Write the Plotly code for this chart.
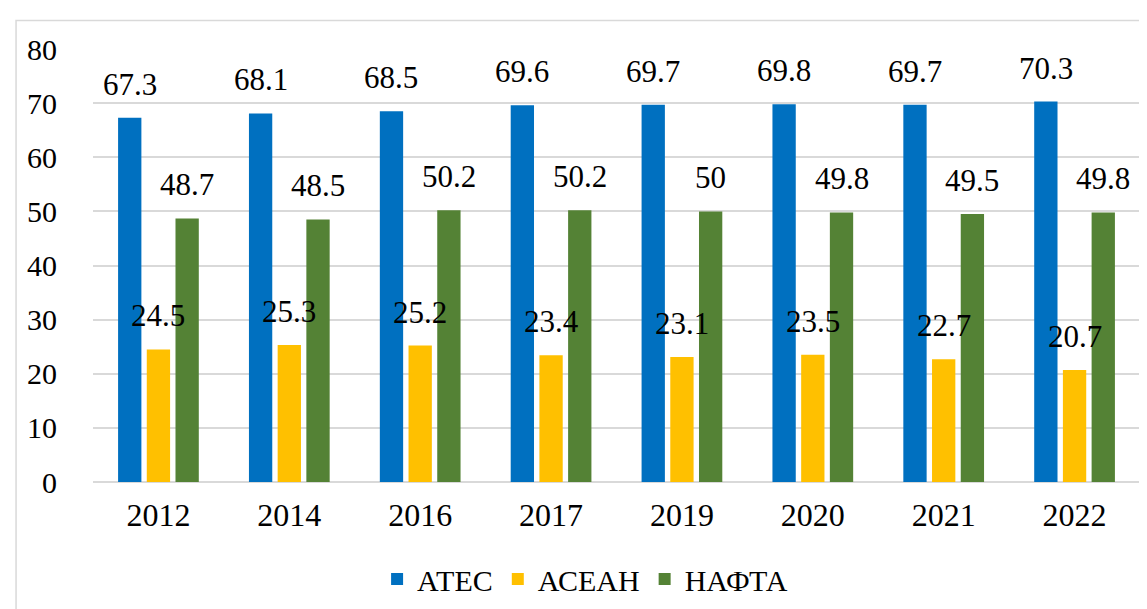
import plotly.graph_objects as go

years = ["2012", "2014", "2016", "2017", "2019", "2020", "2021", "2022"]
apec = [67.3, 68.1, 68.5, 69.6, 69.7, 69.8, 69.7, 70.3]
asean = [24.5, 25.3, 25.2, 23.4, 23.1, 23.5, 22.7, 20.7]
nafta = [48.7, 48.5, 50.2, 50.2, 50, 49.8, 49.5, 49.8]
series_names = ["АТЕС", "АСЕАН", "НАФТА"]
colors = ["#0070C0", "#FFC000", "#548235"]

FONT = "Liberation Serif"
fig = go.Figure()
all_series = [apec, asean, nafta]
for name, vals, col in zip(series_names, all_series, colors):
    fig.add_trace(go.Bar(x=years, y=vals, name=name, marker=dict(color=col, line=dict(width=0))))

shifts = [-28.7, 0, 28.7]
for vals, xs in zip(all_series, shifts):
    for i, v in enumerate(vals):
        fig.add_annotation(x=i, y=v, text=f"{v:g}", showarrow=False, xshift=xs, yshift=14,
                           yanchor="bottom", xanchor="center",
                           font=dict(family=FONT, size=31, color="black"))

fig.add_shape(type="rect", xref="paper", yref="paper", x0=-0.0735, x1=1.05, y0=-0.35, y1=1.0656,
              line=dict(color="#D9D9D9", width=1.5), fillcolor="rgba(0,0,0,0)", layer="below")

fig.update_layout(
    width=1147, height=609,
    margin=dict(l=85, r=15, t=41, b=130),
    paper_bgcolor="white", plot_bgcolor="white",
    barmode="group", bargap=0.342, bargroupgap=0.188,
    font=dict(family=FONT, size=30, color="black"),
    legend=dict(orientation="h", x=0.47, xanchor="center", y=-0.224, yanchor="middle",
                font=dict(family=FONT, size=30), itemwidth=30, tracegroupgap=0),
    xaxis=dict(type="category", categoryorder="array", categoryarray=years,
               range=[-0.5, len(years) - 0.5], showline=False, ticks="",
               tickfont=dict(family=FONT, size=32), ticklabelstandoff=11),
    yaxis=dict(range=[0, 80], dtick=10, showgrid=True, gridcolor="#D9D9D9", gridwidth=1.5,
               zeroline=True, zerolinecolor="#D9D9D9", zerolinewidth=1.5, showline=False,
               ticks="", tickfont=dict(family=FONT, size=30), ticklabelstandoff=35),
)
fig.write_html("out.html")
